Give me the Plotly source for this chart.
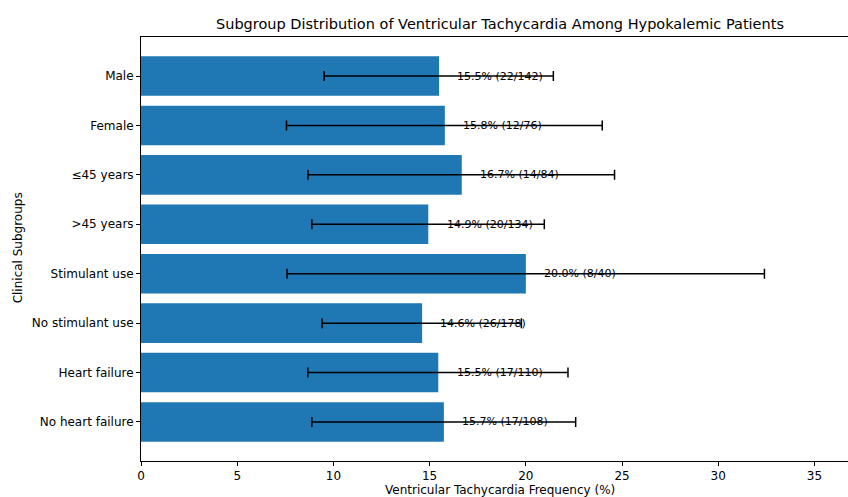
import plotly.graph_objects as go

categories = ["Male", "Female", "≤45 years", ">45 years", "Stimulant use",
              "No stimulant use", "Heart failure", "No heart failure"]
events = [22, 12, 14, 20, 8, 26, 17, 17]
totals = [142, 76, 84, 134, 40, 178, 110, 108]
freq = [15.49, 15.79, 16.67, 14.93, 20.0, 14.61, 15.45, 15.74]
ci_low = [9.52, 7.56, 8.68, 8.88, 7.59, 9.41, 8.67, 8.88]
ci_high = [21.43, 23.97, 24.61, 20.96, 32.4, 19.77, 22.19, 22.59]
xticks = [0, 5, 10, 15, 20, 25, 30, 35]

font = "DejaVu Sans"
W, H = 848, 497
L, T, B = 140.7, 37.3, 36.3
PW, PH = W - L, H - T - B


def px_x(px):
    return (px - L) / PW


def px_y(py):
    return (H - B - py) / PH


fig = go.Figure()
fig.add_trace(go.Bar(
    y=categories, x=freq, orientation="h", width=0.8,
    marker=dict(color="#1f77b4", line=dict(width=0)),
    error_x=dict(type="data", symmetric=False,
                 array=[h - v for h, v in zip(ci_high, freq)],
                 arrayminus=[v - l for v, l in zip(freq, ci_low)],
                 color="black", thickness=1.5, width=5),
    hoverinfo="skip",
))

for c, v, e, n in zip(categories, freq, events, totals):
    fig.add_annotation(x=v + 0.85, y=c, xref="x", yref="y",
                       text=f"{100 * e / n:.1f}% ({e}/{n})", showarrow=False,
                       xanchor="left", yanchor="middle",
                       font=dict(family=font, size=11, color="black"))

fig.add_annotation(x=px_x(500), y=px_y(490), xref="paper", yref="paper",
                   text="Ventricular Tachycardia Frequency (%)", showarrow=False,
                   xanchor="center", yanchor="middle",
                   font=dict(family=font, size=12, color="black"))
fig.add_annotation(x=px_x(18), y=px_y(248), xref="paper", yref="paper",
                   text="Clinical Subgroups", showarrow=False, textangle=-90,
                   xanchor="center", yanchor="middle",
                   font=dict(family=font, size=12, color="black"))

fig.update_layout(
    width=W, height=H,
    margin=dict(l=L, r=0, t=T, b=B, pad=0),
    plot_bgcolor="white", paper_bgcolor="white",
    font=dict(family=font, size=12, color="black"),
    showlegend=False,
    title=dict(text="Subgroup Distribution of Ventricular Tachycardia Among Hypokalemic Patients",
               x=500 / W, xref="container", xanchor="center",
               y=1 - 24 / H, yref="container", yanchor="middle",
               font=dict(family=font, size=14.5, color="black")),
    xaxis=dict(range=[0, PW / 19.25], tickvals=xticks, ticks="outside",
               ticklen=4, tickcolor="black", showline=True, linecolor="black",
               linewidth=1, mirror=True, showgrid=False, zeroline=False,
               tickfont=dict(size=12), automargin=False),
    yaxis=dict(categoryorder="array", categoryarray=categories,
               range=[7.79, -0.79], ticks="outside", ticklen=4, tickcolor="black",
               showline=True, linecolor="black", linewidth=1, showgrid=False,
               zeroline=False, tickfont=dict(size=12), automargin=False),
)

fig.write_html("out.html", config={"displayModeBar": False},
               post_script="document.body.style.margin='0';document.body.style.overflow='hidden';")
